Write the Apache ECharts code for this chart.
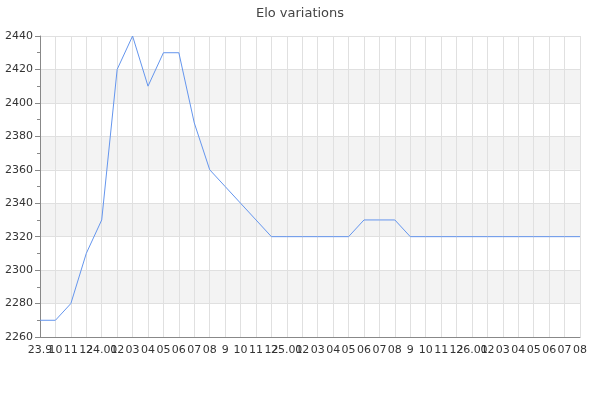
<!DOCTYPE html>
<html>
<head>
<meta charset="utf-8">
<script src="https://cdn.jsdelivr.net/npm/echarts@6/dist/echarts.min.js"></script>
<style>
  html, body { margin: 0; padding: 0; background: #fff; }
  #chart { width: 600px; height: 400px; }
</style>
</head>
<body>
<div id="chart"></div>
<script>
// x 轴标签（年.月 / 月）
const months = [
    '23.9', '10', '11', '12',
    '24.01', '02', '03', '04', '05', '06', '07', '08', '9', '10', '11', '12',
    '25.01', '02', '03', '04', '05', '06', '07', '08', '9', '10', '11', '12',
    '26.01', '02', '03', '04', '05', '06', '07', '08'
]

// Elo 数值
const elo = [
    2270, 2270, 2280, 2310, 2330, 2420, 2440, 2410, 2430, 2430,
    2388, 2360, 2350, 2340, 2330, 2320, 2320, 2320, 2320, 2320,
    2320, 2330, 2330, 2330, 2320, 2320, 2320, 2320, 2320, 2320,
    2320, 2320, 2320, 2320, 2320, 2320
]

const yMin = 2260
const yMax = 2440
const yStep = 20

const chart = echarts.init(document.getElementById('chart'))
chart.setOption({
    animation: false,
    textStyle: { fontFamily: 'DejaVu Sans' },
    title: {
        text: 'Elo variations',
        left: 'center',
        top: 2,
        textStyle: { fontSize: 13, fontWeight: 'normal', color: '#444', fontFamily: 'DejaVu Sans' }
    },
    grid: { left: 40, right: 20, top: 36, bottom: 63 },
    xAxis: {
        type: 'category',
        data: months,
        boundaryGap: false,
        axisLine: { lineStyle: { color: '#888' } },
        axisTick: { show: false },
        axisLabel: { interval: 0, color: '#333', fontSize: 11, margin: 8 },
        splitLine: { show: true, interval: 0, lineStyle: { color: '#e0e0e0' } }
    },
    yAxis: {
        type: 'value',
        min: yMin,
        max: yMax,
        interval: yStep,
        axisLine: { show: true, lineStyle: { color: '#888' } },
        axisTick: { show: true, length: 5, lineStyle: { color: '#888' } },
        minorTick: { show: true, splitNumber: 2, length: 3, lineStyle: { color: '#888' } },
        axisLabel: { color: '#333', fontSize: 11, margin: 7, formatter: v => String(v) },
        splitLine: { lineStyle: { color: '#e0e0e0' } },
        splitArea: { show: true, areaStyle: { color: ['#ffffff', '#f3f3f3'] } }
    },
    series: [{
        type: 'line',
        data: elo,
        showSymbol: false,
        lineStyle: { color: '#6495ed', width: 1 },
        itemStyle: { color: '#6495ed' }
    }]
})
</script>
</body>
</html>
